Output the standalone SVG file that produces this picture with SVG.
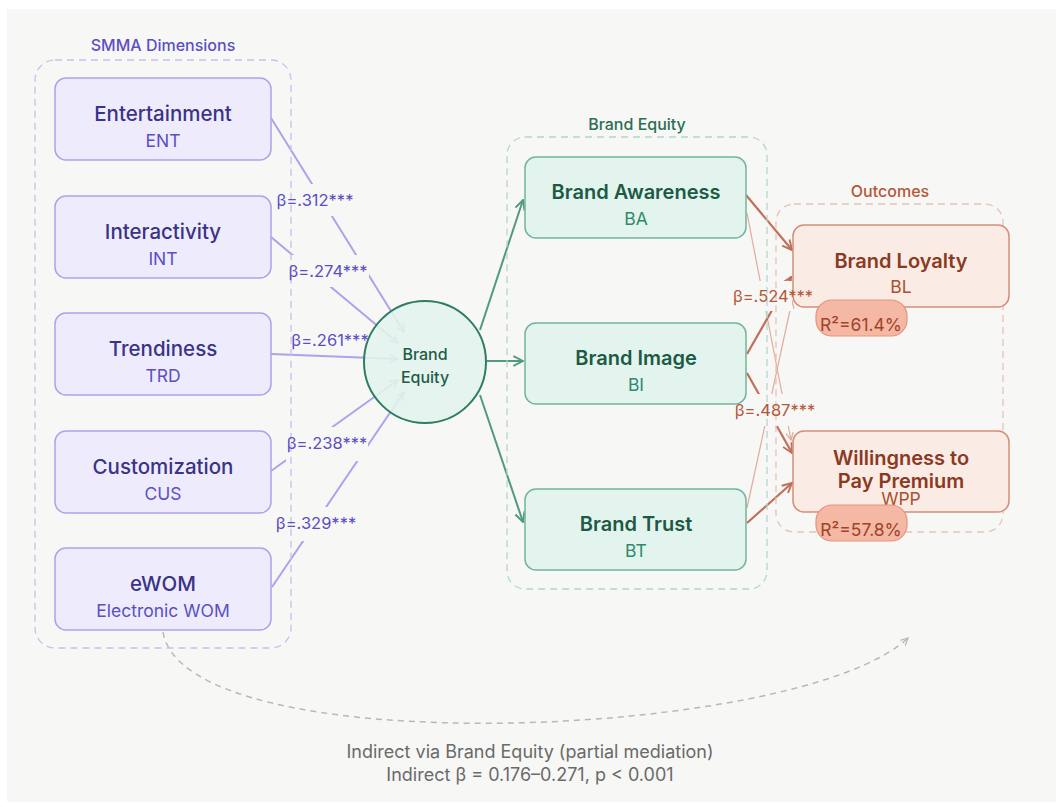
<svg xmlns="http://www.w3.org/2000/svg" width="1056" height="807" viewBox="0 0 1056 807">
<defs>
<style>
text{font-family:Inter,"Noto Sans","Liberation Sans",sans-serif;text-anchor:middle}
.grp{fill:none;stroke-dasharray:7 5;stroke-width:1.3}
.pn{fill:#eeecfc;stroke:#aaa4ea;stroke-width:1.5}
.gn{fill:#e2f4ed;stroke:#72b59c;stroke-width:1.5}
.on{fill:#fbebe5;stroke:#d48e78;stroke-width:1.5}
.pt{font-size:20.5px;font-weight:500;fill:#3a3388}
.ps{font-size:17.5px;fill:#5a4fc6}
.gt{font-size:20px;font-weight:600;fill:#1c5a45}
.gs{font-size:17.5px;fill:#2f8a69}
.ot{font-size:20px;font-weight:600;fill:#8a3a22}
.os{font-size:17.5px;fill:#a9502f}
.pl{stroke:#aaa4ec;stroke-width:2;fill:none;marker-end:url(#ap)}
.gl{stroke:#4f9a80;stroke-width:2;fill:none;marker-end:url(#ag)}
.ol{stroke:#c0705a;stroke-width:2.2;fill:none;marker-end:url(#ao)}
.olt{stroke:#e2ab9a;stroke-width:1.2;fill:none;marker-end:url(#aot)}
.lb{fill:#f7f7f5}
.bp{font-size:16.5px;fill:#5b4fc4}
.bo{font-size:16.5px;fill:#b5573a}
.pill{fill:#f4b8a4;stroke:#e8937a;stroke-width:1.2}
.pt2{font-size:17.5px;fill:#a0432a}
.gl2{font-size:16px;font-weight:500}
</style>
<marker id="ap" viewBox="0 0 10 10" refX="9" refY="5" markerWidth="10" markerHeight="10" markerUnits="userSpaceOnUse" orient="auto"><path d="M1,1 L9,5 L1,9" fill="none" stroke="#aaa4ec" stroke-width="1.6"/></marker>
<marker id="ag" viewBox="0 0 10 10" refX="9" refY="5" markerWidth="12" markerHeight="12" markerUnits="userSpaceOnUse" orient="auto"><path d="M1,1 L9,5 L1,9" fill="none" stroke="#4f9a80" stroke-width="1.6"/></marker>
<marker id="ao" viewBox="0 0 10 10" refX="9" refY="5" markerWidth="12" markerHeight="12" markerUnits="userSpaceOnUse" orient="auto"><path d="M1,1 L9,5 L1,9" fill="none" stroke="#c0705a" stroke-width="1.6"/></marker>
<marker id="aot" viewBox="0 0 10 10" refX="9" refY="5" markerWidth="9" markerHeight="9" markerUnits="userSpaceOnUse" orient="auto"><path d="M1,1 L9,5 L1,9" fill="none" stroke="#e2ab9a" stroke-width="1.4"/></marker>
<marker id="agr" viewBox="0 0 10 10" refX="9" refY="5" markerWidth="9" markerHeight="9" markerUnits="userSpaceOnUse" orient="auto"><path d="M1,1 L9,5 L1,9" fill="none" stroke="#b8b8b8" stroke-width="1.4"/></marker>
</defs>
<rect x="0" y="0" width="1056" height="807" fill="#ffffff"/>
<rect x="7" y="9" width="1049" height="793" fill="#f7f7f5"/>

<g id="connectors">
<line class="pl" x1="271" y1="118" x2="404" y2="332"/>
<line class="pl" x1="271" y1="237" x2="398" y2="343"/>
<line class="pl" x1="271" y1="354" x2="398" y2="359"/>
<line class="pl" x1="271" y1="471" x2="398" y2="380"/>
<line class="pl" x1="272" y1="587" x2="404" y2="392"/>
<line class="gl" x1="480" y1="330" x2="523" y2="200"/>
<line class="gl" x1="487" y1="361" x2="523" y2="361"/>
<line class="gl" x1="480" y1="395" x2="523" y2="522"/>
<line class="ol" x1="746" y1="195" x2="792" y2="250"/>
<line class="olt" x1="747" y1="213" x2="791" y2="440"/>
<line class="ol" x1="747" y1="354" x2="791" y2="277"/>
<line class="ol" x1="747" y1="373" x2="792" y2="453"/>
<line class="olt" x1="747" y1="508" x2="792" y2="301"/>
<line class="ol" x1="747" y1="523" x2="792" y2="483"/>
<path d="M163,632 C185,765 800,740 908,638" fill="none" stroke="#b8b8b8" stroke-width="1.5" stroke-dasharray="6 5" marker-end="url(#agr)"/>
<rect class="lb" x="275" y="184" width="82" height="32"/>
<rect class="lb" x="287" y="255" width="82" height="32"/>
<rect class="lb" x="289" y="324" width="82" height="28"/>
<rect class="lb" x="286" y="427" width="82" height="34"/>
<rect class="lb" x="275" y="507" width="82" height="34"/>
<rect class="lb" x="732" y="281" width="60" height="30"/>
<rect class="lb" x="734" y="394" width="58" height="32"/>
</g>

<g id="group-smma">
<rect class="grp" x="35" y="60" width="256" height="588" rx="20" stroke="#c5c1f0"/>
<text class="gl2" x="163" y="51" fill="#5b4fc4">SMMA Dimensions</text>
</g>
<g id="group-be">
<rect class="grp" x="507" y="137" width="260" height="452" rx="18" stroke="#b3d8c9"/>
<text class="gl2" x="637" y="130" fill="#2a6e56">Brand Equity</text>
</g>
<g id="group-out">
<rect class="grp" x="776" y="204" width="227" height="328" rx="18" stroke="#e6c3b6"/>
<text class="gl2" x="890" y="197" fill="#b5573a">Outcomes</text>
</g>

<g id="node-ent"><rect class="pn" x="55" y="78" width="216" height="82" rx="11"/><text class="pt" x="163" y="121">Entertainment</text><text class="ps" x="163" y="147">ENT</text></g>
<g id="node-int"><rect class="pn" x="55" y="196" width="216" height="82" rx="11"/><text class="pt" x="163" y="239">Interactivity</text><text class="ps" x="163" y="265">INT</text></g>
<g id="node-trd"><rect class="pn" x="55" y="313" width="216" height="82" rx="11"/><text class="pt" x="163" y="356">Trendiness</text><text class="ps" x="163" y="382">TRD</text></g>
<g id="node-cus"><rect class="pn" x="55" y="431" width="216" height="82" rx="11"/><text class="pt" x="163" y="474">Customization</text><text class="ps" x="163" y="500">CUS</text></g>
<g id="node-ewom"><rect class="pn" x="55" y="548" width="216" height="82" rx="11"/><text class="pt" x="163" y="591">eWOM</text><text class="ps" x="163" y="617">Electronic WOM</text></g>

<g id="node-be"><circle cx="425" cy="362" r="61" fill="#e2f4ed" fill-opacity="0.88" stroke="#2e7d62" stroke-width="2"/><text x="425" y="360" style="font-size:16px;font-weight:500;fill:#1f5c48">Brand</text><text x="425" y="383" style="font-size:16px;font-weight:500;fill:#1f5c48">Equity</text></g>

<g id="node-ba"><rect class="gn" x="525" y="157" width="221" height="81" rx="11"/><text class="gt" x="636" y="199">Brand Awareness</text><text class="gs" x="636" y="225">BA</text></g>
<g id="node-bi"><rect class="gn" x="525" y="323" width="221" height="81" rx="11"/><text class="gt" x="636" y="365">Brand Image</text><text class="gs" x="636" y="391">BI</text></g>
<g id="node-bt"><rect class="gn" x="525" y="489" width="221" height="81" rx="11"/><text class="gt" x="636" y="531">Brand Trust</text><text class="gs" x="636" y="557">BT</text></g>

<g id="node-bl"><rect class="on" x="793" y="225" width="216" height="82" rx="11"/><text class="ot" x="901" y="268">Brand Loyalty</text><text class="os" x="901" y="293">BL</text>
<rect class="pill" x="816" y="300" width="91" height="36" rx="16"/><text class="pt2" x="861" y="331">R²=61.4%</text></g>
<g id="node-wpp"><rect class="on" x="793" y="431" width="216" height="81" rx="11"/><text class="ot" x="901" y="465">Willingness to</text><text class="ot" x="901" y="488">Pay Premium</text><text class="os" x="901" y="505">WPP</text>
<rect class="pill" x="816" y="505" width="91" height="36" rx="16"/><text class="pt2" x="861" y="536">R²=57.8%</text></g>

<g id="labels">
<text class="bp" x="315" y="206">β=.312***</text>
<text class="bp" x="328" y="277">β=.274***</text>
<text class="bp" x="330" y="346">β=.261***</text>
<text class="bp" x="327" y="449">β=.238***</text>
<text class="bp" x="316" y="529">β=.329***</text>
<text class="bo" x="773" y="302">β=.524***</text>
<text class="bo" x="775" y="416">β=.487***</text>
<text x="530" y="758" style="font-size:18px;fill:#6a6a6a">Indirect via Brand Equity (partial mediation)</text>
<text x="530" y="781" style="font-size:18px;fill:#6a6a6a">Indirect β = 0.176–0.271, p &lt; 0.001</text>
</g>
</svg>
